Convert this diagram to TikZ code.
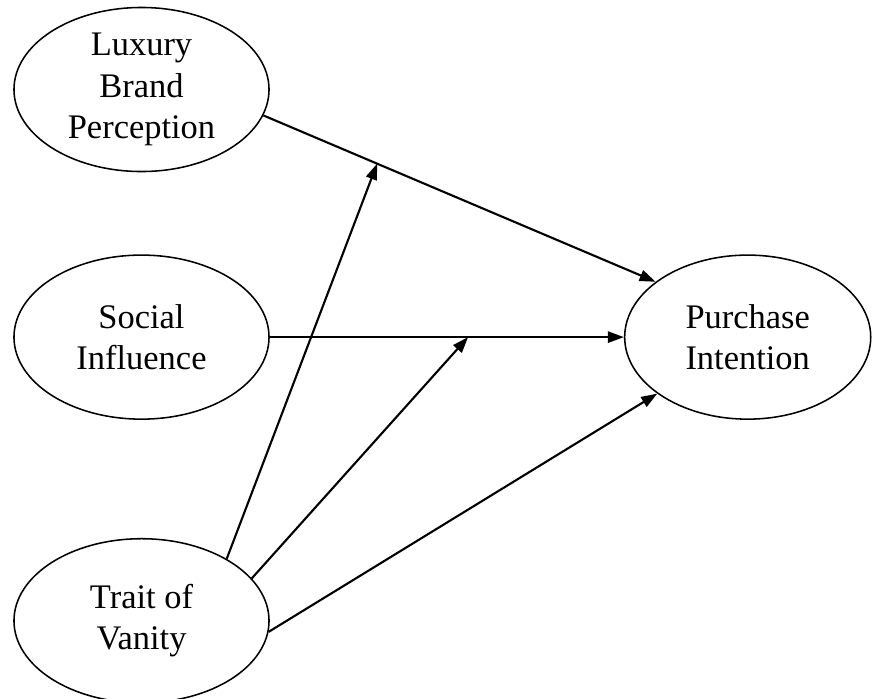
\documentclass[tikz,border=0pt]{standalone}
\usepackage{fontspec}
\setmainfont{Liberation Serif}
\usetikzlibrary{shapes.geometric, arrows.meta, positioning}

\begin{document}
\begin{tikzpicture}[
  x=0.025cm, y=-0.025cm,
  latent/.style={draw, ellipse, line width=1.1pt, inner sep=0pt,
                 minimum width=6.375cm, minimum height=4.1cm, align=center,
                 font=\fontsize{24.5}{29.5}\selectfont},
  path/.style={-{Triangle[length=0.4cm, width=0.28cm]}, line width=1.5pt}
]
\useasboundingbox (0,0) rectangle (874,698);

% Constructs
\node[latent] (lbp) at (141.5,89.5) {Luxury\\Brand\\Perception};
\node[latent, below=2.05cm of lbp] (si) {Social\\Influence};
\node[latent, below=2.95cm of si] (tv) {Trait of\\Vanity};
\node[latent, right=8.85cm of si, minimum width=6.15cm] (pi) {Purchase\\Intention};

% Arrows - direct effects
\draw[path] (lbp.-12) -- coordinate[pos=0.29] (m1) (pi.149);
\draw[path] (si.east) -- coordinate[pos=0.56] (m2) (pi.west);
\draw[path] (tv.-5) -- (pi.212);

% Arrows - moderation
\draw[path] (tv.36) -- (m1);
\draw[path] (tv.21) -- (m2);

\end{tikzpicture}
\end{document}
